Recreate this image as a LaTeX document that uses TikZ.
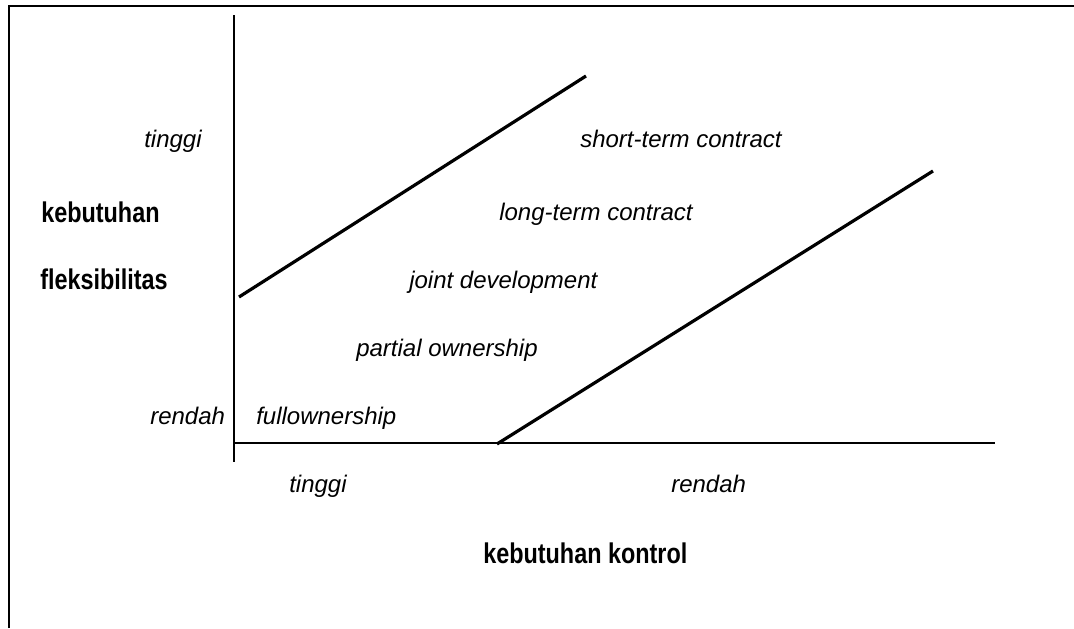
\documentclass[tikz,border=0pt]{standalone}
\usepackage{fontspec}
\setmainfont{Liberation Sans}
\newfontfamily\narrowbold[FakeStretch=0.82]{Liberation Sans}
\begin{document}
\begin{tikzpicture}[x=0.75pt,y=-0.75pt,
  lab/.style={font=\fontsize{18}{21}\selectfont\itshape, inner sep=0pt, anchor=base west},
  head/.style={font=\fontsize{21.4}{24}\selectfont\narrowbold\bfseries, inner sep=0pt, anchor=base west},
  axis/.style={line width=2pt},
  divider/.style={line width=2.4pt}]
\useasboundingbox (0,0) rectangle (1074,628);
\fill[white] (0,0) rectangle (1074,628);
% frame edges
\draw[line width=1.8pt] (9,628) -- (9,6) -- (1074,6);
% axes
\coordinate (ytop) at (234,15);
\coordinate (ybot) at (234,462);
\coordinate (xl) at (234,443);
\coordinate (xr) at (995,443);
\draw[axis] (ytop) -- (ybot);
\draw[axis] (xl) -- (xr);
% dividing lines
\coordinate (a1) at (239,297);
\coordinate (a2) at (586,76);
\coordinate (b1) at (497,444);
\coordinate (b2) at (933,171);
\draw[divider] (a1) -- (a2);
\draw[divider] (b1) -- (b2);
% vertical axis labels
\node[lab] (yhi) at (144,147) {tinggi};
\node[head] (yt1) at (41,222) {kebutuhan};
\node[head] (yt2) at (40,289) {fleksibilitas};
\node[lab] (ylo) at (150,424) {rendah};
% arrangements
\node[lab] (st) at (580,147) {short-term contract};
\node[lab] (lt) at (499,220) {long-term contract};
\node[lab] (jd) at (409,288) {joint development};
\node[lab] (po) at (356,356) {partial ownership};
\node[lab] (fo) at (256,424) {fullownership};
% horizontal axis labels
\node[lab] (xhi) at (289,492) {tinggi};
\node[lab] (xlo) at (671,492) {rendah};
\node[head] (xt) at (483,563) {kebutuhan kontrol};
\end{tikzpicture}
\end{document}
